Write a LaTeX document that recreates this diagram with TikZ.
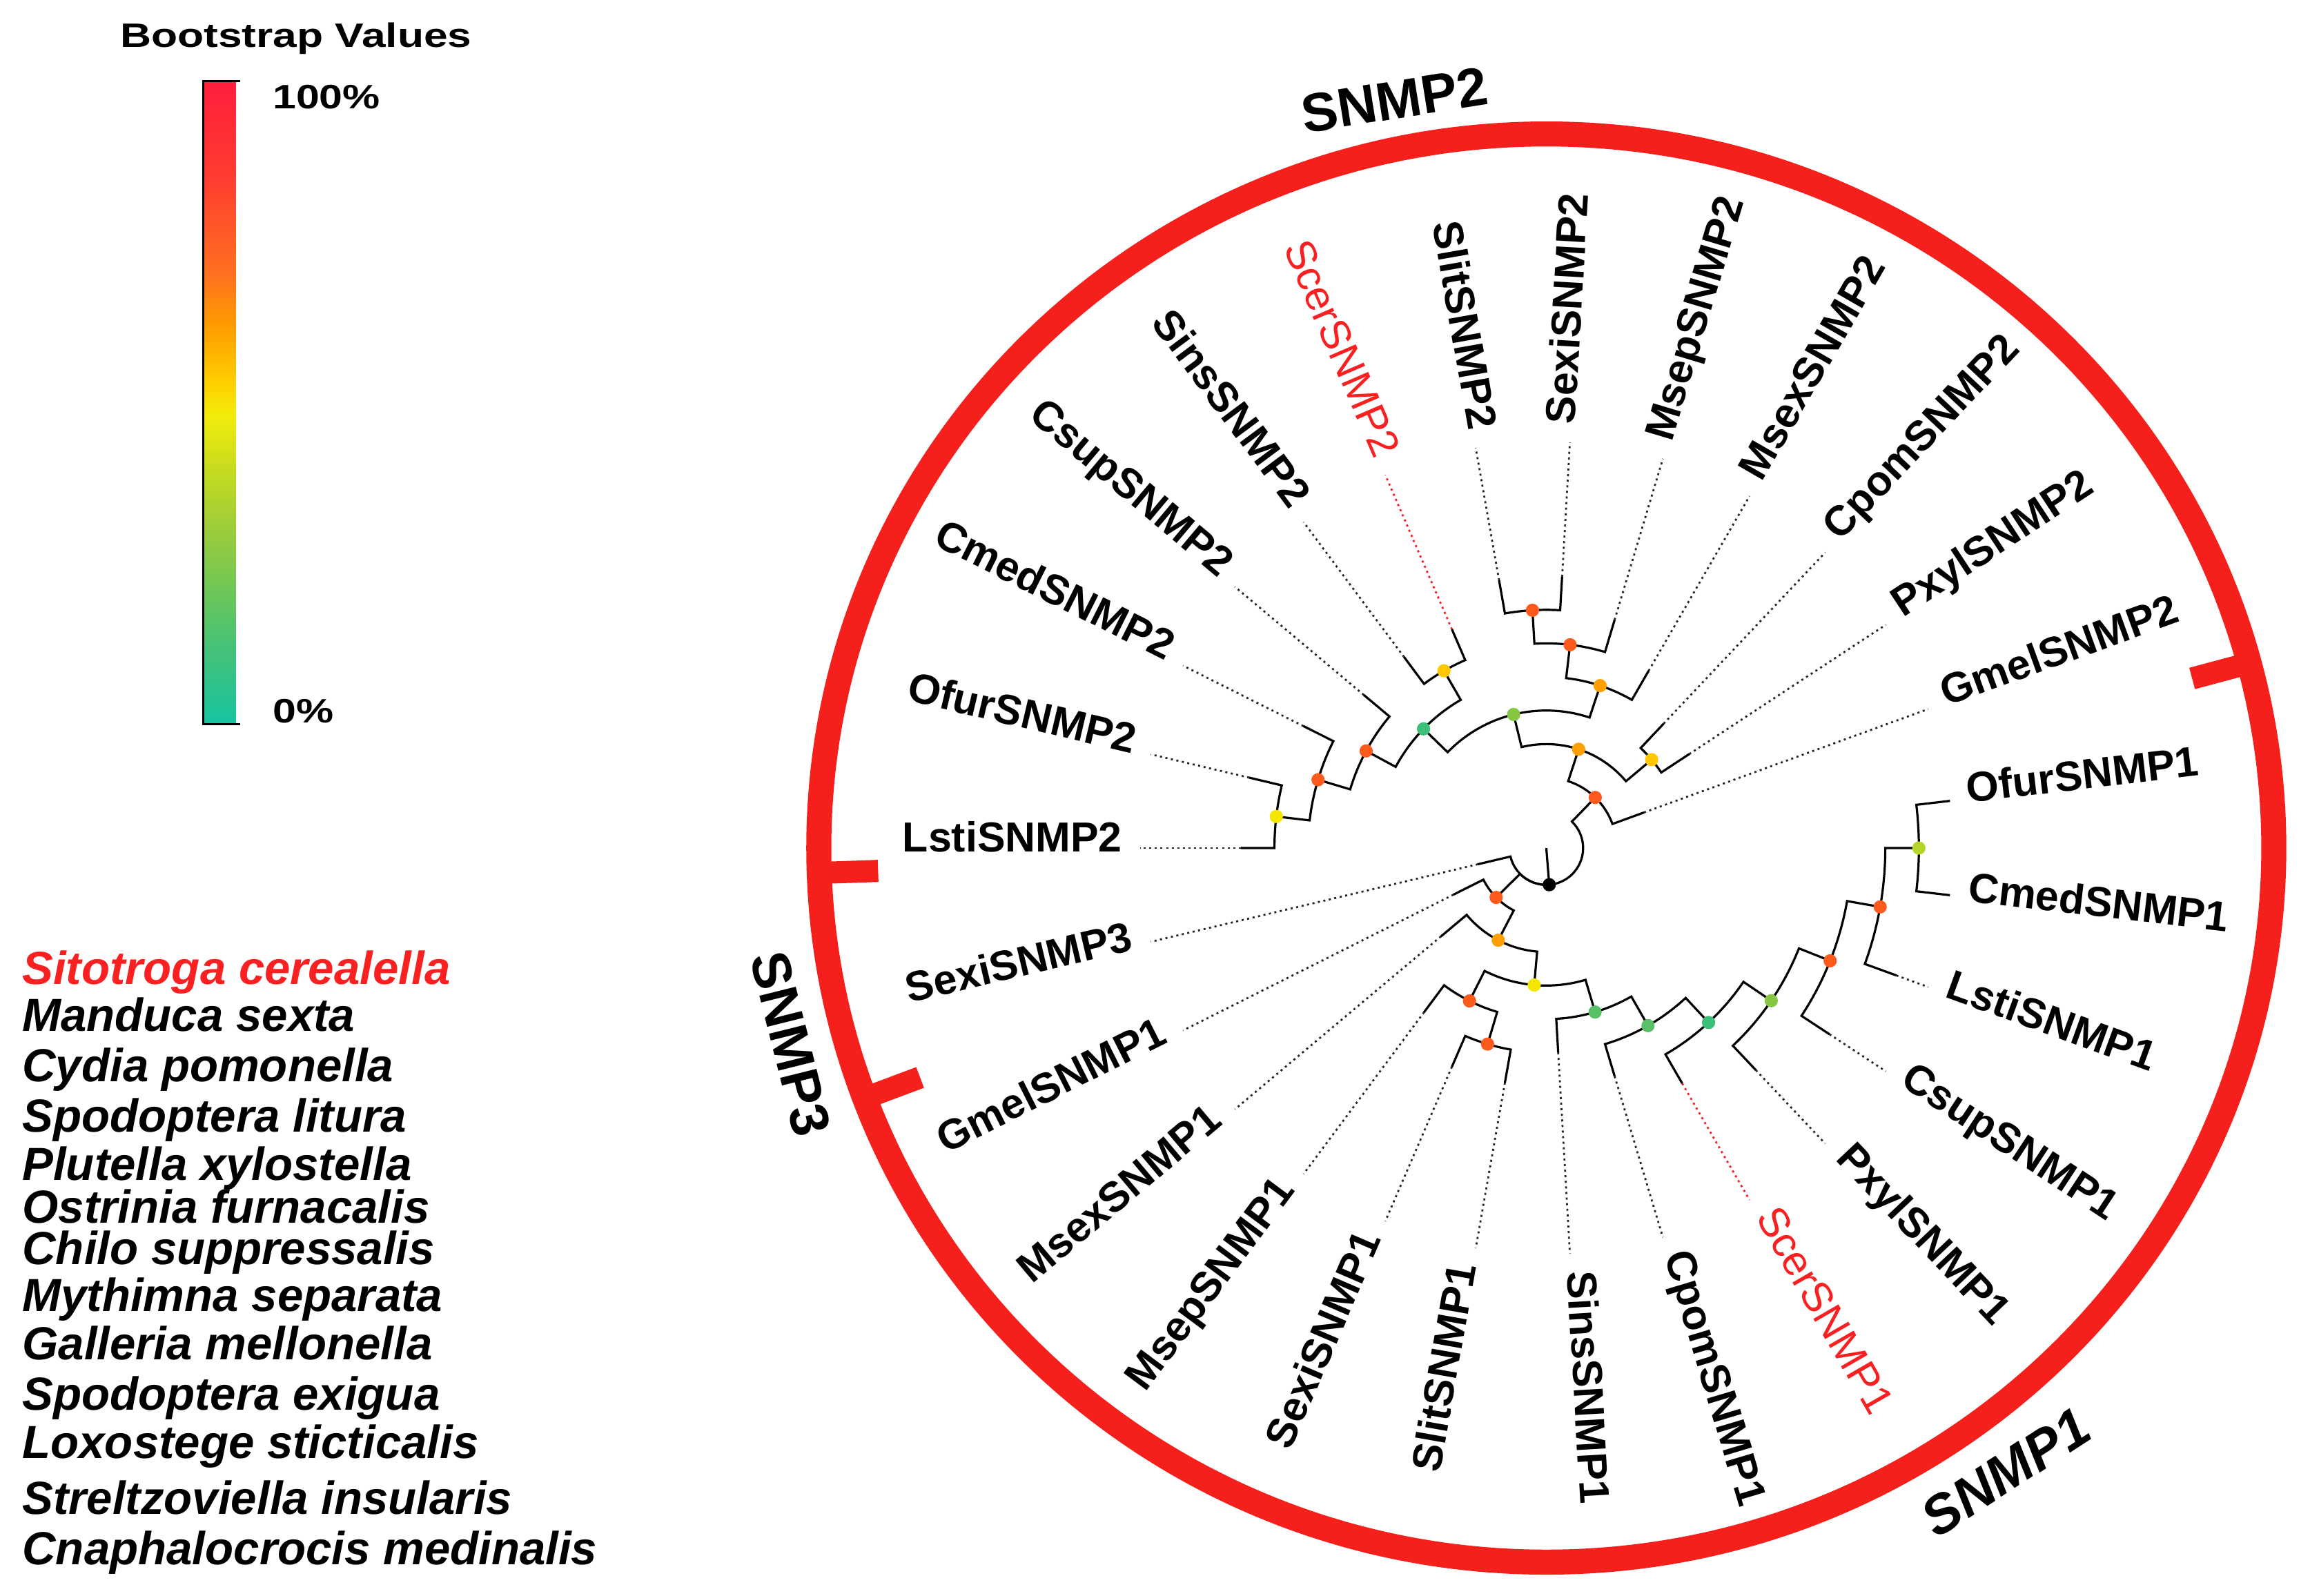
\documentclass[tikz,border=0pt]{standalone}
\usepackage{graphicx}
\usepackage{fontspec}
\setmainfont{Liberation Sans}

\definecolor{ringred}{HTML}{F5201C}
\definecolor{labred}{HTML}{F82020}
\definecolor{bsred}{HTML}{FF5A1E}
\definecolor{bsorange}{HTML}{FFA000}
\definecolor{bsamber}{HTML}{FFC800}
\definecolor{bsyellow}{HTML}{F5E600}
\definecolor{bsygreen}{HTML}{B4D62A}
\definecolor{bslgreen}{HTML}{86C640}
\definecolor{bsgreen}{HTML}{58C168}
\definecolor{bsteal}{HTML}{3CBF78}
\definecolor{bar0}{HTML}{16C4A0}
\definecolor{bar1}{HTML}{46C278}
\definecolor{bar2}{HTML}{6AC65A}
\definecolor{bar3}{HTML}{9ACC3C}
\definecolor{bar4}{HTML}{C8DC1E}
\definecolor{bar5}{HTML}{F2EC0A}
\definecolor{bar6}{HTML}{FFD000}
\definecolor{bar7}{HTML}{FF9C00}
\definecolor{bar8}{HTML}{FF7020}
\definecolor{bar9}{HTML}{FF3C30}
\definecolor{bar10}{HTML}{FF1E3C}

\pgfdeclareverticalshading{bootstrap}{100bp}{color(0bp)=(bar0); color(25bp)=(bar0); color(31bp)=(bar1); color(35bp)=(bar2); color(40bp)=(bar3); color(45bp)=(bar4); color(49bp)=(bar5); color(51.5bp)=(bar6); color(56bp)=(bar7); color(60bp)=(bar8); color(67.5bp)=(bar9); color(75bp)=(bar10); color(100bp)=(bar10)}

\newcommand{\leaffont}{\fontsize{28.5}{30}\selectfont\bfseries}
\newcommand{\scerfont}{\fontsize{28.5}{30}\selectfont}
\newcommand{\cladefont}{\fontsize{37}{40}\selectfont\bfseries}
\newcommand{\keyfont}{\fontsize{23}{25}\selectfont\bfseries}
\newcommand{\speciesfont}{\fontsize{31.5}{33}\selectfont\bfseries\itshape}

% node at angle #2, depth #3
\newcommand{\setnode}[3]{%
  \coordinate (#1) at (#2:{25+22.8*#3});%
  \expandafter\xdef\csname ang#1\endcsname{#2}%
  \expandafter\xdef\csname rad#1\endcsname{25+22.8*#3}}

\newcommand{\branch}[2]{%
  \draw[branch] (#1) arc[start angle=\csname ang#1\endcsname, end angle=\csname ang#2\endcsname, radius=\csname rad#1\endcsname] -- (#2);}

\newcommand{\leaf}[4][]{%
  \setnode{#2}{#3}{#4}%
  \coordinate (#2end) at (#3:276);%
  \draw[tipline,#1] (#2) -- (#2end);%
  \pgfmathtruncatemacro\flip{abs(#3)>90}%
  \ifnum\flip=1
    \node[leaflab,#1,rotate=#3+180,anchor=mid east] (#2lab) at (#3:288) {#2};%
  \else
    \node[leaflab,#1,rotate=#3,anchor=mid west] (#2lab) at (#3:288) {#2};%
  \fi}

\begin{document}
\begin{tikzpicture}[x=1pt,y=1pt,
  branch/.style={line width=1.5pt},
  tipline/.style={line width=1.3pt, dash pattern=on 1.4pt off 2.4pt, black!85},
  leaflab/.style={font=\leaffont, inner sep=0pt},
  scer/.style={color=labred, font=\scerfont},
  bsdot/.style={circle, inner sep=0pt, minimum size=9pt},
  clade/.style={font=\cladefont, inner sep=0pt},
  keytext/.style={font=\keyfont, inner sep=0pt},
  species/.style={font=\speciesfont, inner sep=0pt, anchor=mid west}]
\useasboundingbox (0,0) rectangle (1568.6,1084);

% legend
\node[keytext] (bstitle) at (201,1058) {\scalebox{1.27}[1]{Bootstrap Values}};
\shade[shading=bootstrap] (138,592) rectangle (160,1029);
\draw[line width=1.5pt] (163,1029) -- (138,1029) -- (138,592) -- (163,592);
\node[keytext, anchor=west] (pct100) at (185,1018) {\scalebox{1.24}[1]{100\%}};
\node[keytext, anchor=west] (pct0) at (185,601) {\scalebox{1.24}[1]{0\%}};

\foreach \yy/\sp/\spc [count=\i] in {657/Sitotroga cerealella/labred, 689/Manduca sexta/black, 723/Cydia pomonella/black, 757/Spodoptera litura/black, 790/Plutella xylostella/black, 819/Ostrinia furnacalis/black, 847/Chilo suppressalis/black, 879/Mythimna separata/black, 912/Galleria mellonella/black, 946/Spodoptera exigua/black, 979/Loxostege sticticalis/black, 1017/Streltzoviella insularis/black, 1051/Cnaphalocrocis medinalis/black}
  \node[species, text=\spc] (sp\i) at (15,{1075-\yy}) {\sp};

\begin{scope}[shift={(1050,508)}]
\draw[ringred, line width=17pt] (0,0) ellipse[x radius=494, y radius=485];
\foreach \t in {15,182,200.5}
  \draw[ringred, line width=15pt] ({494*cos(\t)},{485*sin(\t)}) -- ({454*cos(\t)},{445*sin(\t)});

\coordinate (ctr) at (0,0);
\foreach \tname/\tang/\tlvl in {root/-85.39/0, n1/45.9375/1, n2/71.875/2, n3/103.75/3, n4/40/3, n5/135.833/4, n6/71.667/4, n7/120/5, n8/151.667/5, n9/163.333/6, n10/173.333/7, n11/83.333/5, n12/93.333/6, n13/-135.43/1, n14/-117.526/2, n15/-95.052/3, n16/-116.667/4, n17/-106.667/5, n18/-73.4375/4, n19/-60.208/5, n20/-47.083/6, n21/-34.167/7, n22/-21.667/8, n23/-10/9, n24/0/10}
  \setnode{\tname}{\tang}{\tlvl};

\foreach \tname/\tang/\tlvl in {LstiSNMP2/180/8, OfurSNMP2/166.667/8, CmedSNMP2/153.333/7, CsupSNMP2/140/6, SinsSNMP2/126.667/6, SlitSNMP2/100/7, SexiSNMP2/86.667/7, MsepSNMP2/73.333/6, MsexSNMP2/60/5, CpomSNMP2/46.667/4, PxylSNMP2/33.333/4, GmelSNMP2/20/2, OfurSNMP1/6.667/11, CmedSNMP1/-6.667/11, LstiSNMP1/-20/10, CsupSNMP1/-33.333/9, PxylSNMP1/-46.667/8, CpomSNMP1/-73.333/6, SinsSNMP1/-86.667/5, SlitSNMP1/-100/6, SexiSNMP1/-113.333/6, MsepSNMP1/-126.667/5, MsexSNMP1/-140/3, GmelSNMP1/-153.333/2, SexiSNMP3/-166.667/1}
  {\leaf{\tname}{\tang}{\tlvl}}
\leaf[scer]{ScerSNMP2}{113.333}{6}
\leaf[scer]{ScerSNMP1}{-60}{7}

\draw[branch] (ctr) -- (root);
\foreach \pnode/\cnode in {root/n1, root/SexiSNMP3, root/n13, n1/n2, n1/GmelSNMP2, n2/n3, n2/n4, n4/CpomSNMP2, n4/PxylSNMP2, n3/n5, n3/n6, n5/n7, n5/n8, n7/SinsSNMP2, n7/ScerSNMP2, n8/CsupSNMP2, n8/n9, n9/CmedSNMP2, n9/n10, n10/OfurSNMP2, n10/LstiSNMP2, n6/MsexSNMP2, n6/n11, n11/MsepSNMP2, n11/n12, n12/SlitSNMP2, n12/SexiSNMP2, n13/GmelSNMP1, n13/n14, n14/MsexSNMP1, n14/n15, n15/n16, n15/n18, n16/MsepSNMP1, n16/n17, n17/SexiSNMP1, n17/SlitSNMP1, n18/SinsSNMP1, n18/n19, n19/CpomSNMP1, n19/n20, n20/ScerSNMP1, n20/n21, n21/PxylSNMP1, n21/n22, n22/CsupSNMP1, n22/n23, n23/LstiSNMP1, n23/n24, n24/OfurSNMP1, n24/CmedSNMP1}
  \branch{\pnode}{\cnode};

\foreach \k/\dotc in {root/black, n1/bsred, n2/bsorange, n3/bslgreen, n4/bsamber, n5/bsteal, n6/bsorange, n7/bsamber, n8/bsred, n9/bsred, n10/bsyellow, n11/bsred, n12/bsred, n13/bsred, n14/bsorange, n15/bsyellow, n16/bsred, n17/bsred, n18/bsgreen, n19/bsgreen, n20/bsteal, n21/bslgreen, n22/bsred, n23/bsred, n24/bsygreen}
  \node[bsdot, fill=\dotc] (\k dot) at (\k) {};
\end{scope}

\node[clade, rotate=9] (snmp2) at (947,1016) {SNMP2};
\node[clade, rotate=-76] (snmp3) at (537,375) {SNMP3};
\node[clade, rotate=33] (snmp1) at (1362,84) {\itshape SNMP1};
\end{tikzpicture}
\end{document}
